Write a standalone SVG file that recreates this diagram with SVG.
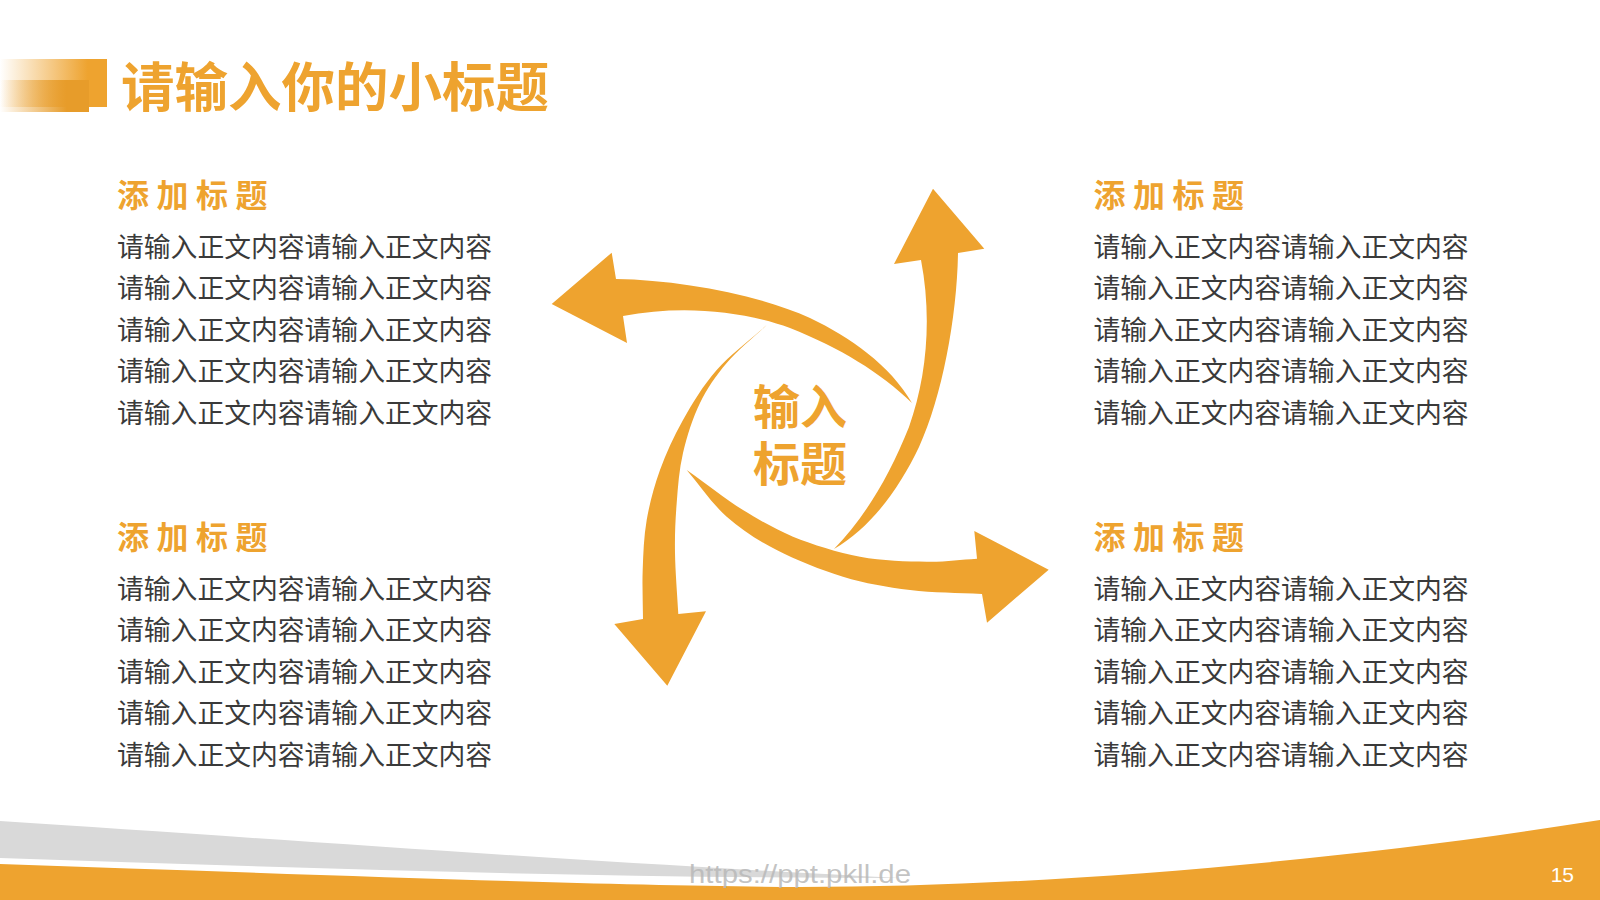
<svg xmlns="http://www.w3.org/2000/svg" width="1600" height="900" viewBox="0 0 1600 900">
  <style>
    .title { font-family: "Noto Sans CJK SC", "Noto Sans", sans-serif; font-weight: 700; fill: #EEA32F; }
    .head { font-family: "Noto Sans CJK SC", "Noto Sans", sans-serif; font-weight: 700; font-size: 32px; letter-spacing: 7.5px; fill: #EEA32F; }
    .body { font-family: "Noto Sans CJK SC", "Noto Sans", sans-serif; font-size: 26.8px; fill: #3A3A3A; }
    .arrow { fill: #EEA32F; }
  </style>
  <defs>
    <linearGradient id="gBack" x1="0" y1="0" x2="1" y2="0">
      <stop offset="0" stop-color="#EEA32F" stop-opacity="0"/>
      <stop offset="0.82" stop-color="#EEA32F" stop-opacity="1"/>
      <stop offset="1" stop-color="#EEA32F" stop-opacity="1"/>
    </linearGradient>
    <linearGradient id="gFront" x1="0" y1="0" x2="1" y2="0">
      <stop offset="0" stop-color="#E79C2A" stop-opacity="0"/>
      <stop offset="0.75" stop-color="#E79C2A" stop-opacity="1"/>
      <stop offset="1" stop-color="#E79C2A" stop-opacity="1"/>
    </linearGradient>
  </defs>
  <rect width="1600" height="900" fill="#FFFFFF"/>

  <g id="header">
    <rect x="0" y="59" width="107" height="48" fill="url(#gBack)"/>
    <rect x="0" y="80" width="89" height="32" fill="url(#gFront)"/>
    <text class="title" x="121" y="107" font-size="53.5">请输入你的小标题</text>
  </g>

  <g id="connectors">
    <path id="arrow-left" class="arrow" d="M 551.7 304 L 611.7 252.7 L 616 279 C 680 280, 760 295, 810 318 C 850 337, 890 365, 912 403 C 880 372, 840 348, 790 328 C 740 310, 680 305, 623 316 L 627 343 Z"/>
    <path id="arrow-up" class="arrow" transform="rotate(90 800 437)" d="M 551.7 304 L 611.7 252.7 L 616 279 C 680 280, 760 295, 810 318 C 850 337, 890 365, 912 403 C 880 372, 840 348, 790 328 C 740 310, 680 305, 623 316 L 627 343 Z"/>
    <path id="arrow-right" class="arrow" d="M 1048.7 569.7 L 974.3 531 L 977 558.7 C 960.2 559.7, 946.2 562, 926.7 561.7 C 907.2 561.4, 882.3 560.9, 860 556.7 C 837.7 552.5, 812.5 544.5, 793 536.7 C 775.3 528.9, 760.7 521.1, 743 510 C 725.3 498.9, 705.5 483.3, 686.7 470 C 700 485.6, 711.7 503.4, 726.7 516.7 C 741.7 530, 757.3 540, 776.7 550 C 796.1 560, 820.8 570, 843 576.7 C 865.2 583.4, 886.8 587.1, 910 590 C 933.2 592.9, 958 592.7, 982 594 L 987 622.7 Z"/>
    <path id="arrow-down" class="arrow" d="M 667.3 685.7 L 614.3 624 L 643 619 C 642.9 602.7, 642.1 586.5, 642.7 570 C 643.3 553.5, 643.8 536.7, 646.7 520 C 649.6 503.3, 654 486.7, 660 470 C 666.1 453.3, 673.6 436.7, 683 420 C 692.5 403.3, 702.8 385.8, 716.7 370 C 730.6 354.2, 750 340, 766.7 325 C 753.4 337.7, 737.8 350, 726.7 363 C 715.6 376, 707.3 388, 700 403 C 692.7 418, 686.9 436.3, 683 453 C 679.1 469.7, 678 486.3, 676.7 503 C 675.4 519.7, 674.7 534.5, 675 553 C 675.3 571.5, 677.2 593.7, 678.3 614 L 706 611.3 Z"/>
  </g>

  <g id="center">
    <text class="title" x="800" y="424" font-size="47" text-anchor="middle">输入</text>
    <text class="title" x="800" y="481" font-size="47" text-anchor="middle">标题</text>
  </g>

  <g id="section-tl">
    <text class="head" x="117" y="207">添加标题</text>
    <text class="body" x="117" y="256.6">请输入正文内容请输入正文内容</text>
    <text class="body" x="117" y="298.1">请输入正文内容请输入正文内容</text>
    <text class="body" x="117" y="339.6">请输入正文内容请输入正文内容</text>
    <text class="body" x="117" y="381.1">请输入正文内容请输入正文内容</text>
    <text class="body" x="117" y="422.6">请输入正文内容请输入正文内容</text>
  </g>

  <g id="section-tr">
    <text class="head" x="1093.5" y="207">添加标题</text>
    <text class="body" x="1093.5" y="256.6">请输入正文内容请输入正文内容</text>
    <text class="body" x="1093.5" y="298.1">请输入正文内容请输入正文内容</text>
    <text class="body" x="1093.5" y="339.6">请输入正文内容请输入正文内容</text>
    <text class="body" x="1093.5" y="381.1">请输入正文内容请输入正文内容</text>
    <text class="body" x="1093.5" y="422.6">请输入正文内容请输入正文内容</text>
  </g>

  <g id="section-bl">
    <text class="head" x="117" y="549">添加标题</text>
    <text class="body" x="117" y="598.6">请输入正文内容请输入正文内容</text>
    <text class="body" x="117" y="640.1">请输入正文内容请输入正文内容</text>
    <text class="body" x="117" y="681.6">请输入正文内容请输入正文内容</text>
    <text class="body" x="117" y="723.1">请输入正文内容请输入正文内容</text>
    <text class="body" x="117" y="764.6">请输入正文内容请输入正文内容</text>
  </g>

  <g id="section-br">
    <text class="head" x="1093.5" y="549">添加标题</text>
    <text class="body" x="1093.5" y="598.6">请输入正文内容请输入正文内容</text>
    <text class="body" x="1093.5" y="640.1">请输入正文内容请输入正文内容</text>
    <text class="body" x="1093.5" y="681.6">请输入正文内容请输入正文内容</text>
    <text class="body" x="1093.5" y="723.1">请输入正文内容请输入正文内容</text>
    <text class="body" x="1093.5" y="764.6">请输入正文内容请输入正文内容</text>
  </g>

  <g id="footer">
    <path d="M 0 821 C 250 837, 550 860, 900 878 C 600 878, 300 868, 0 858 Z" fill="#D9D9D9"/>
    <path d="M 0 864 C 300 874, 600 886, 800 887 C 1050 887, 1350 860, 1600 820 L 1600 900 L 0 900 Z" fill="#EEA32F"/>
    <text x="689" y="883" font-family="Liberation Sans, sans-serif" font-size="25" textLength="222" lengthAdjust="spacingAndGlyphs" fill="#B8B8B8" fill-opacity="0.85">https://ppt.pkll.de</text>
    <text x="1574" y="881.5" font-family="Liberation Sans, sans-serif" font-size="21" text-anchor="end" fill="#FFFFFF">15</text>
  </g>
</svg>
